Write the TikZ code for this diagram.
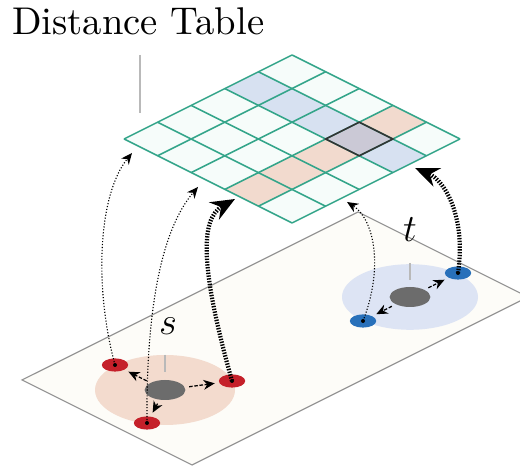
\RequirePackage{fix-cm}
\documentclass[tikz,border=0pt]{standalone}
\usepackage{fontspec}
\setmainfont{lmroman10-regular}[Extension=.otf]
\usepackage{tikz}
\usetikzlibrary{arrows.meta,shapes.geometric}
\definecolor{gridline}{RGB}{52,165,138}
\definecolor{gridfill}{RGB}{246,252,250}
\definecolor{cellblue}{RGB}{215,225,241}
\definecolor{cellpink}{RGB}{242,218,206}
\definecolor{celldark}{RGB}{203,201,214}
\definecolor{planefill}{RGB}{253,252,248}
\definecolor{planeline}{RGB}{150,150,150}
\definecolor{discpink}{RGB}{243,219,206}
\definecolor{discblue}{RGB}{221,228,244}
\definecolor{vtxred}{RGB}{197,32,42}
\definecolor{vtxblue}{RGB}{40,112,186}
\definecolor{vtxgrey}{RGB}{108,108,108}
\definecolor{tickgrey}{RGB}{185,185,185}
\tikzset{
    centre/.style={ellipse,fill=vtxgrey,minimum width=1.02cm,minimum height=0.5cm,inner sep=0pt},
    redvtx/.style={ellipse,fill=vtxred,minimum width=0.66cm,minimum height=0.33cm,inner sep=0pt},
    bluevtx/.style={redvtx,fill=vtxblue},
    nbrarrow/.style={-{Stealth[length=8pt,width=7pt]},dash pattern=on 2.5pt off 1.2pt,line width=0.9pt,shorten <=3pt,shorten >=3pt},
    thinlink/.style={-{Stealth[length=8pt,width=7pt]},dash pattern=on 0.8pt off 1.3pt,line width=0.8pt},
    thicklink/.style={-{Stealth[length=17pt,width=14pt]},dash pattern=on 1pt off 1pt,line width=3pt},
    tickline/.style={tickgrey,line width=1pt},
    biglabel/.style={inner sep=0pt,font=\fontsize{27.5}{30}\selectfont}
}
\begin{document}
\begin{tikzpicture}
\useasboundingbox (0,0) rectangle (13,11.675);

%%% TITLE %%%
\node[biglabel,anchor=base west] (title) at (0.3,10.8) {Distance Table};
\draw[tickline] (3.5,10.3) -- (3.5,8.85); % title tick

%%% GRAPH PLANE %%%
\filldraw[fill=planefill,draw=planeline,line width=0.8pt] (0.55,2.175) -- (4.8,0.05) -- (13.2,4.25) -- (8.95,6.375) -- cycle; % plane
\fill[discpink] (4.125,1.925) ellipse [x radius=1.75, y radius=0.875]; % source disc
\fill[discblue] (10.25,4.25) ellipse [x radius=1.7, y radius=0.82]; % target disc

\node[biglabel] (slab) at (4.2,3.51) {$s$};
\node[biglabel] (tlab) at (10.25,5.925) {$t$};
\draw[tickline] (4.125,2.8) -- (4.125,2.375); % s tick
\draw[tickline] (10.25,5.1) -- (10.25,4.675); % t tick

\node[centre] (s) at (4.125,1.925) {};
\node[redvtx] (sa) at (2.875,2.55) {};
\node[redvtx] (sb) at (3.675,1.1) {};
\node[redvtx] (sc) at (5.8,2.15) {};
\node[centre] (t) at (10.25,4.25) {};
\node[bluevtx] (ta) at (11.45,4.85) {};
\node[bluevtx] (tb) at (9.075,3.65) {};

\draw[nbrarrow] (s) -- (sa);
\draw[nbrarrow] (s) -- (sb);
\draw[nbrarrow] (s) -- (sc);
\draw[nbrarrow] (t) -- (ta);
\draw[nbrarrow] (t) -- (tb);

%%% DISTANCE TABLE %%%
\begin{scope}[shift={(7.3,10.3)},x={(0.84cm,-0.42cm)},y={(-0.84cm,-0.42cm)}]
\fill[gridfill] (0,0) -- (5,0) -- (5,5) -- (0,5) -- cycle;
\foreach \r in {0,2,3,4} \fill[cellpink] (3,\r) -- ++(1,0) -- ++(0,1) -- ++(-1,0) -- cycle; % source column
\foreach \c in {0,1,2,4} \fill[cellblue] (\c,1) -- ++(1,0) -- ++(0,1) -- ++(-1,0) -- cycle; % target row
\fill[celldark] (3,1) -- ++(1,0) -- ++(0,1) -- ++(-1,0) -- cycle;
\foreach \k in {0,...,5} {
    \draw[gridline,line width=1.1pt] (\k,0) -- (\k,5);
    \draw[gridline,line width=1.1pt] (0,\k) -- (5,\k);
}
\draw[black!80,line width=1.1pt] (3,1) -- ++(1,0) -- ++(0,1) -- ++(-1,0) -- cycle; % looked-up entry
\end{scope}

%%% LOOKUPS %%%
\coordinate (ga) at (3.3,7.85);
\coordinate (gb) at (4.95,7.0);
\coordinate (gc) at (5.875,6.7);
\coordinate (gd) at (8.675,6.625);
\coordinate (ge) at (10.375,7.475);

\draw[thinlink] (sa.center) .. controls (2.35,4.5) and (2.45,6.8) .. (ga);
\draw[thinlink] (sb.center) .. controls (3.65,4.0) and (4.05,5.95) .. (gb);
\draw[thicklink] (sc.center) .. controls (5.0,5.0) and (5.0,6.2) .. (gc);
\draw[thinlink] (tb.center) .. controls (9.6,5.0) and (9.35,6.2) .. (gd);
\draw[thicklink] (ta.center) .. controls (11.65,6.2) and (11.15,7.15) .. (ge);

%%% MUST BE ON TOP %%%
\foreach \n in {sa,sb,sc,ta,tb} \fill (\n) circle [radius=0.05];
\end{tikzpicture}
\end{document}
